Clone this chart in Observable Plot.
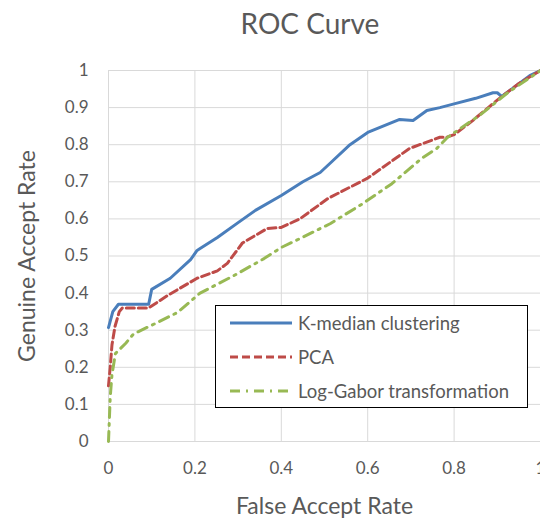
<!DOCTYPE html>
<html>
<head>
<meta charset="utf-8">
<script src="https://cdn.jsdelivr.net/npm/d3@7"></script>
<script src="https://cdn.jsdelivr.net/npm/@observablehq/plot@0.6"></script>
<style>
  html, body { margin: 0; padding: 0; background: #fff; }
  #wrap { position: relative; width: 540px; height: 518px; overflow: hidden; font-family: Lato, sans-serif; color: #595959; }
  #title { position: absolute; left: 0; top: 6px; width: 620px; text-align: center; font-size: 28px; }
  #chart { position: absolute; left: 0; top: 48px; }
  #legend { position: absolute; left: 215px; top: 305px; width: 311px; height: 101px; border: 1.5px solid #000; background: #fff; }
  .row { position: absolute; left: 14px; height: 20px; display: flex; align-items: center; font-size: 18.5px; white-space: nowrap; }
  .row svg { margin-right: 6px; }
</style>
</head>
<body>
<div id="wrap">
  <div id="title">ROC Curve</div>
  <div id="chart"></div>
  <div id="legend"></div>
</div>
<script>
const seriesNames = ["K-median clustering", "PCA", "Log-Gabor transformation"];
const seriesColors = ["#4a7ebb", "#be4b48", "#98b954"];
const seriesDash = [null, "8,4", "10,6,2,6"];

const kmedianFAR = [0, 0.01, 0.023, 0.06, 0.093, 0.10, 0.143, 0.19, 0.205, 0.212, 0.252, 0.30, 0.34, 0.40, 0.45, 0.49, 0.513, 0.559, 0.60, 0.674, 0.705, 0.737, 0.767, 0.80, 0.85, 0.89, 0.90, 0.91, 0.975, 1];
const kmedianGAR = [0.307, 0.35, 0.37, 0.37, 0.37, 0.41, 0.44, 0.49, 0.515, 0.52, 0.55, 0.59, 0.623, 0.663, 0.70, 0.725, 0.75, 0.80, 0.833, 0.868, 0.865, 0.892, 0.90, 0.91, 0.925, 0.94, 0.94, 0.93, 0.986, 1];

const pcaFAR = [0, 0.004, 0.008, 0.015, 0.025, 0.032, 0.06, 0.093, 0.136, 0.205, 0.252, 0.275, 0.31, 0.367, 0.40, 0.443, 0.508, 0.60, 0.697, 0.767, 0.783, 0.80, 0.843, 0.905, 0.95, 1];
const pcaGAR = [0.15, 0.20, 0.26, 0.31, 0.35, 0.36, 0.36, 0.36, 0.393, 0.44, 0.46, 0.48, 0.535, 0.574, 0.577, 0.60, 0.655, 0.71, 0.79, 0.82, 0.82, 0.827, 0.865, 0.925, 0.965, 1];

const gaborFAR = [0, 0.002, 0.004, 0.008, 0.016, 0.04, 0.058, 0.108, 0.16, 0.212, 0.29, 0.36, 0.40, 0.443, 0.513, 0.587, 0.656, 0.725, 0.76, 0.785, 0.86, 0.924, 1];
const gaborGAR = [0, 0.06, 0.12, 0.18, 0.237, 0.265, 0.29, 0.318, 0.348, 0.40, 0.447, 0.493, 0.523, 0.547, 0.587, 0.64, 0.695, 0.763, 0.79, 0.82, 0.88, 0.94, 1];

const xTicks = [0, 0.2, 0.4, 0.6, 0.8, 1];
const yTicks = [0, 0.1, 0.2, 0.3, 0.4, 0.5, 0.6, 0.7, 0.8, 0.9, 1];

const toRows = (xs, ys) => xs.map((x, i) => ({x, y: ys[i]}));
const series = [toRows(kmedianFAR, kmedianGAR), toRows(pcaFAR, pcaGAR), toRows(gaborFAR, gaborGAR)];

const chart = Plot.plot({
  width: 540,
  height: 470,
  marginLeft: 108,
  marginRight: 0,
  marginTop: 22,
  marginBottom: 77,
  style: { fontFamily: "Lato, sans-serif", color: "#595959", background: "transparent", overflow: "visible" },
  x: { domain: [0, 1] },
  y: { domain: [0, 1] },
  marks: [
    Plot.gridX(xTicks, { stroke: "#d9d9d9", strokeOpacity: 1, strokeWidth: 1 }),
    Plot.gridY(yTicks, { stroke: "#d9d9d9", strokeOpacity: 1, strokeWidth: 1 }),
    Plot.axisX({ ticks: xTicks, tickSize: 0, tickPadding: 20, fontSize: 17, tickFormat: d => String(d),
      label: "False Accept Rate", labelAnchor: "center", labelArrow: "none", labelOffset: 72 }),
    Plot.axisY({ ticks: yTicks, tickSize: 0, tickPadding: 20, fontSize: 17, tickFormat: d => String(d),
      label: "Genuine Accept Rate", labelAnchor: "center", labelArrow: "none", labelOffset: 90 }),
    ...series.map((data, i) => Plot.line(data, {
      x: "x", y: "y", stroke: seriesColors[i], strokeWidth: 3,
      strokeDasharray: seriesDash[i], strokeLinejoin: "round", curve: "linear"
    }))
  ]
});
chart.querySelectorAll("[aria-label='x-axis label'] text, [aria-label='y-axis label'] text").forEach(t => t.setAttribute("font-size", 23));
document.getElementById("chart").appendChild(chart);

const legend = document.getElementById("legend");
const tops = [7, 41, 75];
seriesNames.forEach((name, i) => {
  const row = document.createElement("div");
  row.className = "row";
  row.style.top = tops[i] + "px";
  row.innerHTML = `<svg width="62" height="10"><line x1="0" y1="5" x2="62" y2="5" stroke="${seriesColors[i]}" stroke-width="3" ${seriesDash[i] ? `stroke-dasharray="${seriesDash[i]}"` : ""}/></svg><span>${name}</span>`;
  legend.appendChild(row);
});
</script>
</body>
</html>
